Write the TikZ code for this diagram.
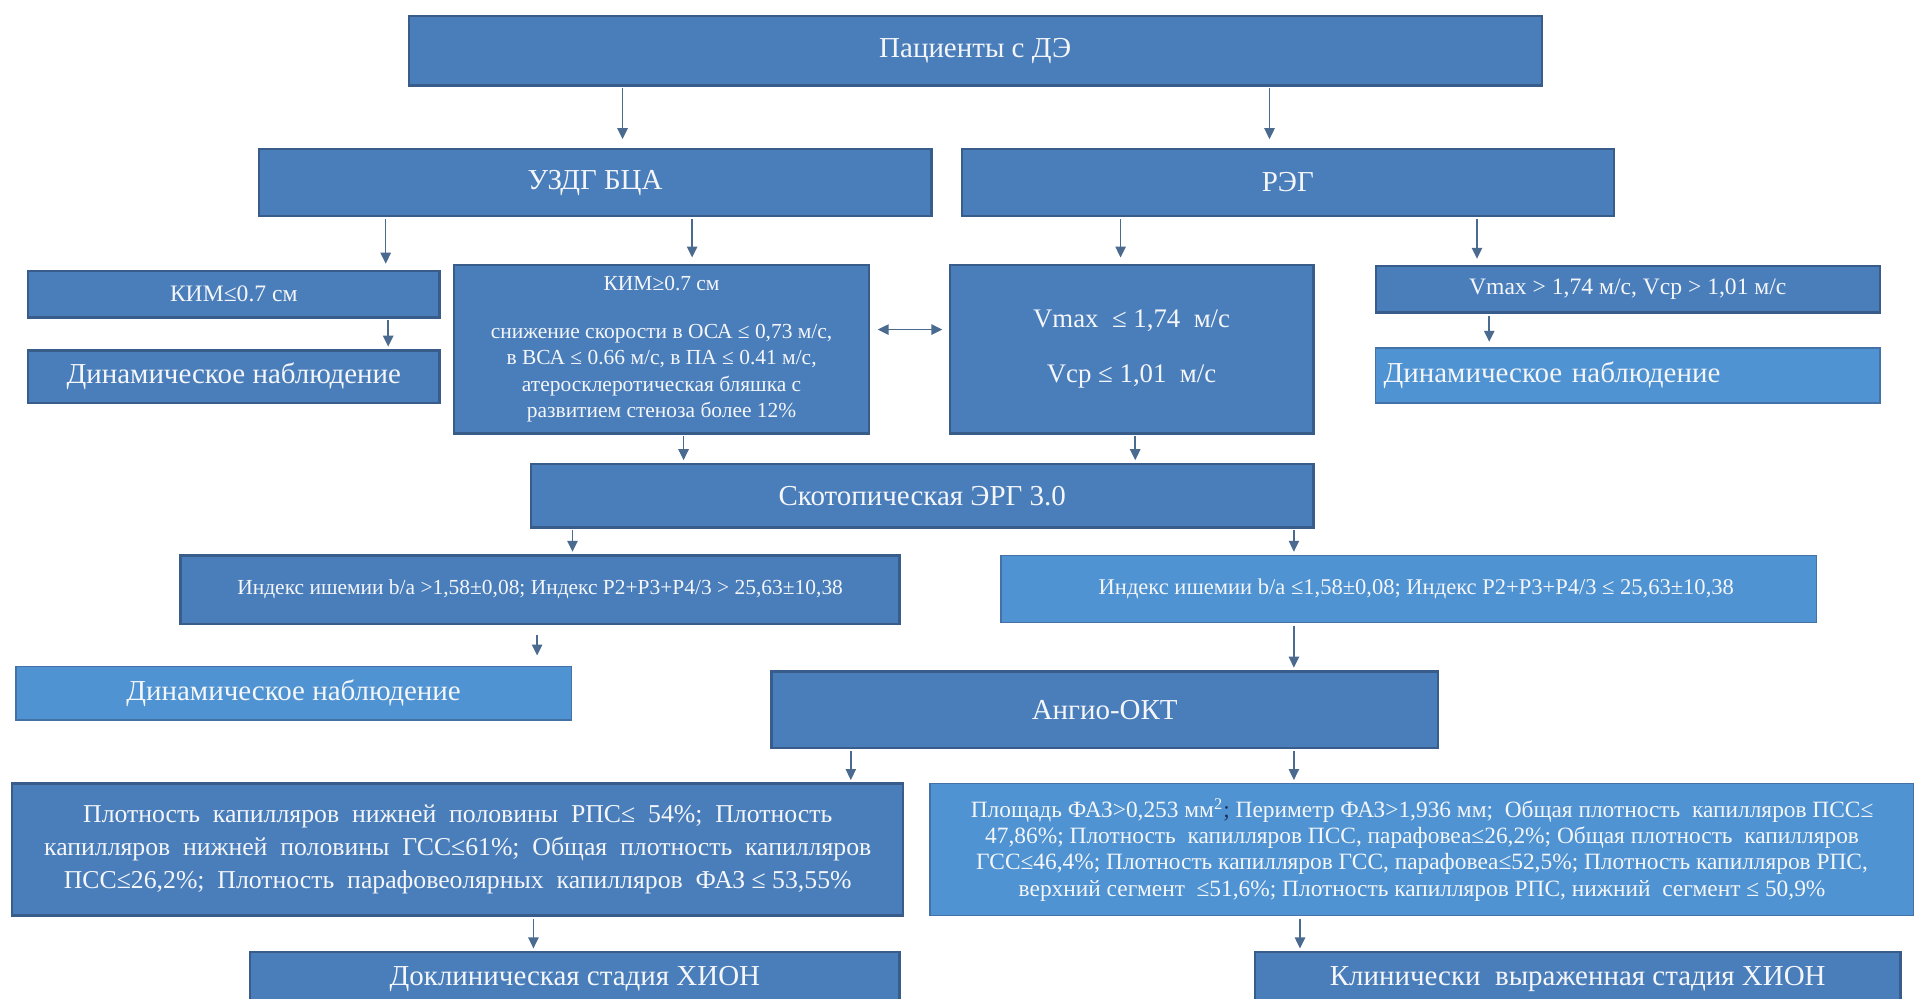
\documentclass[tikz,border=0pt]{standalone}
\usepackage{fontspec}
\setmainfont{Liberation Serif}
\usetikzlibrary{arrows.meta}

\definecolor{boxfill}{HTML}{4A7EBB}
\definecolor{boxline}{HTML}{385D8A}
\definecolor{lightfill}{HTML}{4F93D2}
\definecolor{lightline}{HTML}{4472A6}
\definecolor{arrcol}{HTML}{4A6A90}
\definecolor{boxtext}{HTML}{F4F6F9}
\definecolor{semicol}{HTML}{1F2F5C}

\newcommand{\fsz}[2]{\fontsize{#1}{#2}\selectfont}

\begin{document}
\begin{tikzpicture}[x=0.2mm, y=-0.2mm,
    box/.style={draw=boxline, line width=1.1pt, fill=boxfill, text=boxtext,
                align=center, inner sep=1pt, outer sep=0pt},
    lbox/.style={box, draw=lightline, line width=0.7pt, fill=lightfill},
    arr/.style={->, draw=arrcol, line width=0.7pt, shorten <=0.5mm, shorten >=0.6mm},
    >={Triangle[length=1.8mm, width=1.7mm]}]
  \useasboundingbox (0,0) rectangle (1568,818);

  \node[box, minimum width=185.6mm, minimum height=11.4mm, font=\fsz{13.5}{16}] (pat) at (799,41.5) {Пациенты с ДЭ};
  \node[box, minimum width=110.2mm, minimum height=11mm, font=\fsz{13.5}{16}] (uzdg) at (487.5,149.5) {УЗДГ БЦА};
  \node[box, minimum width=106.8mm, minimum height=11mm, font=\fsz{13.5}{16}] (reg) at (1055,149.5) {РЭГ};

  \node[box, minimum width=67.4mm, minimum height=7.6mm, font=\fsz{11}{13}] (kimle) at (191.5,241) {КИМ≤0.7 см};
  \node[box, minimum width=67.4mm, minimum height=8.6mm, font=\fsz{13.5}{16}] (dyna) at (191.5,308.5) {Динамическое наблюдение};
  \node[box, minimum width=68mm, minimum height=27.6mm, font=\fsz{10}{12.3}] (kimge) at (542,286)
    {КИМ≥0.7 см\\[3.5mm]снижение скорости в ОСА ≤ 0,73 м/с,\\в ВСА ≤ 0.66 м/с, в ПА ≤ 0.41 м/с,\\атеросклеротическая бляшка с\\развитием стеноза более 12\%};
  \node[box, minimum width=59.6mm, minimum height=27.6mm, font=\fsz{12.5}{15}] (vlow) at (927,286)
    {Vmax \ ≤ 1,74 \ м/с\\[3.8mm]Vср ≤ 1,01 \ м/с};
  \node[box, minimum width=82.6mm, minimum height=7.6mm, font=\fsz{11}{13}] (vhigh) at (1333.5,237)
    {Vmax > 1,74 м/с, Vср > 1,01 м/с};
  \node[lbox, minimum width=82.6mm, minimum height=9mm, font=\fsz{13.5}{16}, text width=80mm, align=left] (dynb) at (1333.5,307.5)
    {Динамическое наблюдение};

  \node[box, minimum width=128.2mm, minimum height=10.4mm, font=\fsz{13.5}{16}] (erg) at (755.5,406) {Скотопическая ЭРГ 3.0};
  \node[box, minimum width=117.8mm, minimum height=11.2mm, font=\fsz{10}{12}] (idxa) at (442.5,483)
    {Индекс ишемии b/a >1,58±0,08; Индекс P2+P3+P4/3 > 25,63±10,38};
  \node[lbox, minimum width=133.6mm, minimum height=11mm, font=\fsz{10.5}{12}] (idxb) at (1154,482.5)
    {\hspace*{2.5mm}Индекс ишемии b/a ≤1,58±0,08; Индекс P2+P3+P4/3 ≤ 25,63±10,38};
  \node[lbox, minimum width=91mm, minimum height=8.8mm, font=\fsz{13.5}{16}] (dync) at (240.5,568) {Динамическое наблюдение};
  \node[box, minimum width=109.2mm, minimum height=12.6mm, font=\fsz{13.5}{16}] (oct) at (905,581.5) {Ангио-ОКТ};

  \node[box, minimum width=146mm, minimum height=21.6mm, font=\fsz{12}{15.3}] (densa) at (375,696)
    {Плотность \ капилляров \ нижней \ половины \ РПС≤ \ 54\%; \ Плотность\\
     капилляров \ нижней \ половины \ ГСС≤61\%; \ Общая \ плотность \ капилляров\\
     ПСС≤26,2\%; \ Плотность \ парафовеолярных \ капилляров \ ФАЗ ≤ 53,55\%};
  \node[lbox, minimum width=161.2mm, minimum height=21.6mm, font=\fsz{10.9}{12.2}] (densb) at (1165,696)
    {Площадь ФАЗ>0,253 мм\textsuperscript{2}{\color{semicol};} Периметр ФАЗ>1,936 мм; \ Общая плотность \ капилляров ПСС≤\\
     47,86\%; Плотность \ капилляров ПСС, парафовеа≤26,2\%; Общая плотность \ капилляров\\
     ГСС≤46,4\%; Плотность капилляров ГСС, парафовеа≤52,5\%; Плотность капилляров РПС,\\
     верхний сегмент \ ≤51,6\%; Плотность капилляров РПС, нижний \ сегмент ≤ 50,9\%};

  \node[box, minimum width=106.4mm, minimum height=8.8mm, font=\fsz{13.5}{16}] (precl) at (471,802) {Доклиническая стадия ХИОН};
  \node[box, minimum width=105.8mm, minimum height=8.8mm, font=\fsz{13.5}{16}] (clin) at (1292.5,802) {Клинически \ выраженная стадия ХИОН};

  \draw[arr, shorten >=1.6mm] (pat.south -| 510,0) -- (uzdg.north -| 510,0);
  \draw[arr, shorten >=1.6mm] (pat.south -| 1040,0) -- (reg.north -| 1040,0);
  \draw[arr, shorten >=1.2mm] (uzdg.south -| 316,0) -- (kimle.north -| 316,0);
  \draw[arr, shorten >=1.2mm] (uzdg.south -| 567,0) -- (kimge.north -| 567,0);
  \draw[arr, shorten >=1.2mm] (reg.south -| 918,0) -- (vlow.north -| 918,0);
  \draw[arr, shorten >=1.2mm] (reg.south -| 1210,0) -- (vhigh.north -| 1210,0);
  \draw[arr] (kimle.south -| 318,0) -- (dyna.north -| 318,0);
  \draw[arr, shorten >=1mm] (vhigh.south -| 1220,0) -- (dynb.north -| 1220,0);
  \draw[arr, <->, shorten <=1.4mm, shorten >=1.2mm] (kimge.east |- 0,270) -- (vlow.west |- 0,270);
  \draw[arr] (kimge.south -| 560,0) -- (erg.north -| 560,0);
  \draw[arr] (vlow.south -| 930,0) -- (erg.north -| 930,0);
  \draw[arr] (erg.south -| 469,0) -- (idxa.north -| 469,0);
  \draw[arr] (erg.south -| 1060,0) -- (idxb.north -| 1060,0);
  \draw[arr, shorten <=1.8mm, shorten >=1.8mm] (idxa.south -| 440,0) -- (dync.north -| 440,0);
  \draw[arr] (idxb.south -| 1060,0) -- (oct.north -| 1060,0);
  \draw[arr] (oct.south -| 697,0) -- (densa.north -| 697,0);
  \draw[arr] (oct.south -| 1060,0) -- (densb.north -| 1060,0);
  \draw[arr] (densa.south -| 437,0) -- (precl.north -| 437,0);
  \draw[arr] (densb.south -| 1065,0) -- (clin.north -| 1065,0);
\end{tikzpicture}
\end{document}
